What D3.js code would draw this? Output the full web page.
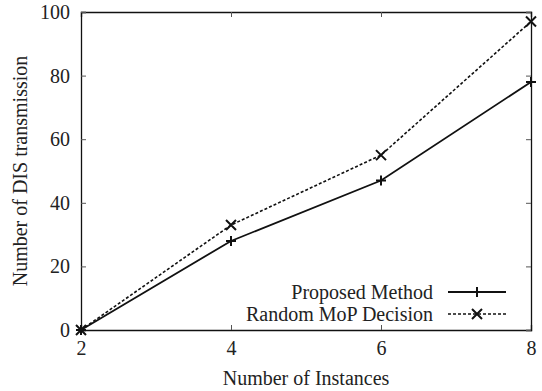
<!DOCTYPE html>
<html>
<head>
<meta charset="utf-8">
<script src="https://cdn.jsdelivr.net/npm/d3@7"></script>
<style>
  body { margin: 0; background: #fff; }
  svg text { font-family: "Liberation Serif", "DejaVu Serif", serif; fill: #222; }
</style>
</head>
<body>
<div id="wrapper"></div>
<script>
const instances = [2, 4, 6, 8]
const proposedMethod = [0, 28, 47, 78]
const randomMoP = [0, 33, 55, 97]
const xTicks = [2, 4, 6, 8]
const yTicks = [0, 20, 40, 60, 80, 100]
const seriesNames = ["Proposed Method", "Random MoP Decision"]

function drawLineChart(){
    let dimensions = {
        width: 542,
        height: 391,
        margin: { top: 12, right: 11, bottom: 61, left: 81 },
    }
    dimensions.boundedWidth = dimensions.width - dimensions.margin.left - dimensions.margin.right
    dimensions.boundedHeight = dimensions.height - dimensions.margin.top - dimensions.margin.bottom

    const wrapper = d3.select("#wrapper")
        .append("svg")
        .attr("width", dimensions.width)
        .attr("height", dimensions.height)

    const bounds = wrapper.append("g")
        .attr("transform", `translate(${dimensions.margin.left},${dimensions.margin.top})`)

    const xScale = d3.scaleLinear()
        .domain([2, 8])
        .range([0, dimensions.boundedWidth])
    const yScale = d3.scaleLinear()
        .domain([0, 100])
        .range([dimensions.boundedHeight, 0])

    const fontSize = 20
    const tickLen = 5

    // axes with inward ticks, mirrored on top and right
    const xAxis = bounds.append("g")
        .attr("transform", `translate(0,${dimensions.boundedHeight})`)
        .call(d3.axisBottom(xScale).tickValues(xTicks).tickSize(-tickLen).tickPadding(11).tickFormat(d3.format("d")))
    const xTop = bounds.append("g")
        .call(d3.axisTop(xScale).tickValues(xTicks).tickSize(-tickLen).tickFormat(""))
    const yAxis = bounds.append("g")
        .call(d3.axisLeft(yScale).tickValues(yTicks).tickSize(-tickLen).tickPadding(11).tickFormat(d3.format("d")))
    const yRight = bounds.append("g")
        .attr("transform", `translate(${dimensions.boundedWidth},0)`)
        .call(d3.axisRight(yScale).tickValues(yTicks).tickSize(-tickLen).tickFormat(""))

    ;[xAxis, xTop, yAxis, yRight].forEach(a => {
        a.attr("font-family", null).attr("font-size", null)
        a.select(".domain").attr("stroke", "#111").attr("stroke-width", 1.3)
        a.selectAll(".tick line").attr("stroke", "#555").attr("stroke-width", 1)
        a.selectAll(".tick text")
            .style("font-size", fontSize + "px")
            .attr("fill", "#222")
    })

    // axis labels
    wrapper.append("text")
        .attr("x", dimensions.margin.left + dimensions.boundedWidth / 2)
        .attr("y", 385)
        .attr("text-anchor", "middle")
        .style("font-size", fontSize + "px")
        .text("Number of Instances")
    wrapper.append("text")
        .attr("transform", `translate(27,${dimensions.margin.top + dimensions.boundedHeight / 2}) rotate(-90)`)
        .attr("text-anchor", "middle")
        .style("font-size", fontSize + "px")
        .text("Number of DIS transmission")

    const lineGenerator = d3.line()
        .x((d, i) => xScale(instances[i]))
        .y(d => yScale(d))

    const styles = [
        { data: proposedMethod, dash: null, marker: "plus" },
        { data: randomMoP, dash: "3,2", marker: "cross" },
    ]

    const drawMarker = (g, type, cx, cy) => {
        const s = 5
        const p = type === "plus"
            ? `M${cx - s},${cy}L${cx + s},${cy}M${cx},${cy - s}L${cx},${cy + s}`
            : `M${cx - s},${cy - s}L${cx + s},${cy + s}M${cx - s},${cy + s}L${cx + s},${cy - s}`
        g.append("path").attr("d", p).attr("stroke", "#111").attr("stroke-width", 2).attr("fill", "none")
    }

    styles.forEach(s => {
        bounds.append("path")
            .attr("d", lineGenerator(s.data))
            .attr("fill", "none")
            .attr("stroke", "#111")
            .attr("stroke-width", s.dash ? 1.6 : 1.8)
            .attr("stroke-dasharray", s.dash)
        const mg = bounds.append("g")
        s.data.forEach((v, i) => drawMarker(mg, s.marker, xScale(instances[i]), yScale(v)))
    })

    // legend
    const legend = wrapper.append("g")
    styles.forEach((s, i) => {
        const ly = 292 + i * 22
        legend.append("text")
            .attr("x", 433)
            .attr("y", ly)
            .attr("dy", "0.35em")
            .attr("text-anchor", "end")
            .style("font-size", fontSize + "px")
            .text(seriesNames[i])
        legend.append("line")
            .attr("x1", 448).attr("x2", 506)
            .attr("y1", ly).attr("y2", ly)
            .attr("stroke", "#111")
            .attr("stroke-width", s.dash ? 1.3 : 1.8)
            .attr("stroke-dasharray", s.dash)
        drawMarker(legend, s.marker, 477, ly)
    })
}
drawLineChart()
</script>
</body>
</html>
